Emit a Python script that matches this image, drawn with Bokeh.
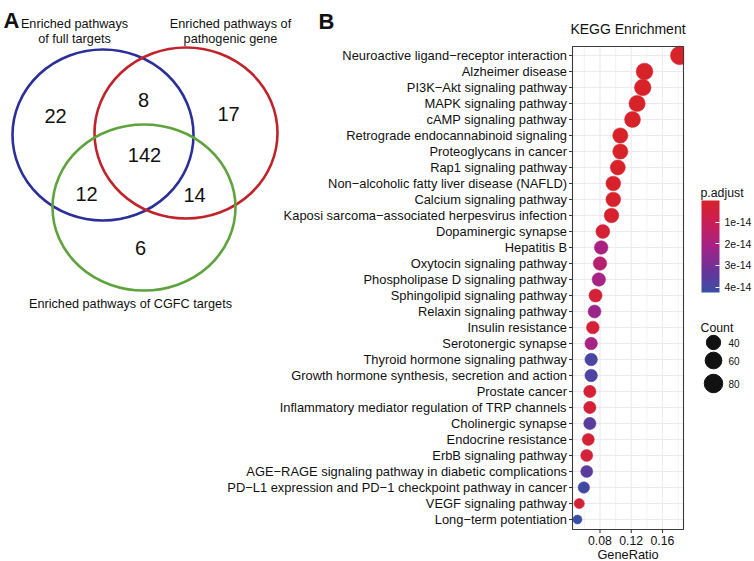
import math
from bokeh.plotting import figure
from bokeh.models import (ColumnDataSource, Range1d, LinearColorMapper, ColorBar,
                          FixedTicker, CustomJSTickFormatter)
from bokeh.embed import file_html
from bokeh.resources import INLINE
from bokeh.core.properties import value

# ---------------- data ----------------
pathways = [
    "Neuroactive ligand\u2212receptor interaction",
    "Alzheimer disease",
    "PI3K\u2212Akt signaling pathway",
    "MAPK signaling pathway",
    "cAMP signaling pathway",
    "Retrograde endocannabinoid signaling",
    "Proteoglycans in cancer",
    "Rap1 signaling pathway",
    "Non\u2212alcoholic fatty liver disease (NAFLD)",
    "Calcium signaling pathway",
    "Kaposi sarcoma\u2212associated herpesvirus infection",
    "Dopaminergic synapse",
    "Hepatitis B",
    "Oxytocin signaling pathway",
    "Phospholipase D signaling pathway",
    "Sphingolipid signaling pathway",
    "Relaxin signaling pathway",
    "Insulin resistance",
    "Serotonergic synapse",
    "Thyroid hormone signaling pathway",
    "Growth hormone synthesis, secretion and action",
    "Prostate cancer",
    "Inflammatory mediator regulation of TRP channels",
    "Cholinergic synapse",
    "Endocrine resistance",
    "ErbB signaling pathway",
    "AGE\u2212RAGE signaling pathway in diabetic complications",
    "PD\u2212L1 expression and PD\u22121 checkpoint pathway in cancer",
    "VEGF signaling pathway",
    "Long\u2212term potentiation",
]
gene_ratio = [0.182, 0.137, 0.1347, 0.1275, 0.1216, 0.106, 0.106, 0.1028, 0.097, 0.097,
              0.0947, 0.0836, 0.0815, 0.080, 0.0785, 0.0743, 0.073, 0.0708, 0.0687, 0.0687,
              0.0687, 0.067, 0.067, 0.067, 0.065, 0.063, 0.063, 0.0593, 0.0534, 0.0512]
counts = [80, 60, 59, 56, 53, 47, 47, 45, 43, 43,
          42, 37, 36, 35, 35, 33, 32, 31, 30, 30,
          30, 29, 29, 29, 28, 28, 28, 26, 23, 22]
p_adjust = [1.2e-24, 3.5e-22, 2.1e-21, 5.6e-20, 8.0e-19, 3.3e-17, 4.1e-17, 1.5e-16, 6.2e-16, 7.5e-16,
            1.1e-15, 2.4e-15, 2.0e-14, 1.6e-14, 2.05e-14, 3.0e-15, 2.35e-14, 2.6e-15, 2.05e-14, 3.9e-14,
            3.85e-14, 2.9e-15, 3.1e-15, 3.6e-14, 3.2e-15, 3.6e-15, 3.55e-14, 4.1e-14, 2.8e-15, 4.25e-14]
x_ticks = [0.08, 0.12, 0.16]
x_tick_labels = ["0.08", "0.12", "0.16"]
x_minor = [0.06, 0.10, 0.14, 0.18]
padj_ticks = [1e-14, 2e-14, 3e-14, 4e-14]
count_breaks = [40, 60, 80]

venn_title_lines = [["Enriched pathways", "of full targets"],
                    ["Enriched pathways of", "pathogenic gene"],
                    ["Enriched pathways of CGFC targets"]]
venn_regions = ["full only", "full & pathogenic", "pathogenic only", "all three",
                "full & CGFC", "pathogenic & CGFC", "CGFC only"]
venn_counts = [22, 8, 17, 142, 12, 14, 6]

# ---------------- styles / layout (page pixels) ----------------
FONT = "Liberation Sans"
TXT = "#111111"
GRID = "#EBEBEB"
BORDER = "#3a3a3a"
W, H = 754, 561
PANEL_L, PANEL_R, PANEL_T, PANEL_B = 572, 683, 46, 529
RATIO_LO, RATIO_HI = 0.0448, 0.1869          # GeneRatio axis limits
ROW0_Y, ROW_STEP = 55.0, 16.0                # first category centre, category spacing
CB_L, CB_T, CB_W, CB_H = 701, 200, 18, 92    # colour bar box

def palette_from_stops(stops, n=256):
    out = []
    for i in range(n):
        t = i / (n - 1)
        for (t0, c0), (t1, c1) in zip(stops[:-1], stops[1:]):
            if t0 <= t <= t1:
                f = (t - t0) / (t1 - t0) if t1 > t0 else 0
                c = [round(a + (b - a) * f) for a, b in zip(c0, c1)]
                out.append("#%02x%02x%02x" % tuple(c))
                break
    return out

pal = palette_from_stops([(0.0, (216, 34, 42)), (0.25, (200, 30, 88)), (0.5, (165, 35, 135)),
                          (0.75, (108, 50, 152)), (1.0, (58, 78, 165))])

cmin, cmax = min(counts), max(counts)
def diam(c):
    return 9.0 + 9.5 * math.sqrt((c - cmin) / (cmax - cmin))

p = figure(width=W, height=H, x_range=Range1d(0, W), y_range=Range1d(H, 0),
           output_backend="svg", toolbar_location=None, min_border=0,
           x_axis_location=None, y_axis_location=None)
p.grid.visible = False
p.outline_line_color = None

pmin, pmax = min(p_adjust), max(p_adjust)

# GeneRatio scale, category scale and p.adjust legend scale
k = (RATIO_HI - RATIO_LO) / (PANEL_R - PANEL_L)
kp = (pmax - pmin) / CB_H
p.extra_x_ranges = {"ratio": Range1d(RATIO_LO - PANEL_L * k, RATIO_LO + (W - PANEL_L) * k)}
p.extra_y_ranges = {"rows": Range1d((H - ROW0_Y) / ROW_STEP, -ROW0_Y / ROW_STEP),
                    "padj": Range1d(pmin + (H - CB_T) * kp, pmin - CB_T * kp)}

rows = list(range(len(pathways)))
src = ColumnDataSource(dict(pathway=pathways, row=rows, ratio=gene_ratio, count=counts,
                            padj=p_adjust, size=[diam(c) for c in counts]))
mapper = LinearColorMapper(palette=pal, low=pmin, high=pmax)

# ---- panel background grid ----
p.segment(x0=PANEL_L, x1=PANEL_R, y0="row", y1="row", source=src, y_range_name="rows",
          line_color=GRID, line_width=1.1)
p.segment(x0=x_minor, x1=x_minor, y0=PANEL_T, y1=PANEL_B, x_range_name="ratio",
          line_color=GRID, line_width=0.6)
p.segment(x0=x_ticks, x1=x_ticks, y0=PANEL_T, y1=PANEL_B, x_range_name="ratio",
          line_color=GRID, line_width=1.1)

# ---- dots ----
p.scatter(x="ratio", y="row", size="size", source=src, x_range_name="ratio", y_range_name="rows",
          fill_color={"field": "padj", "transform": mapper},
          line_color={"field": "padj", "transform": mapper}, line_width=0.5)
# panel clips the dots at its right edge
p.quad(left=PANEL_R + 0.6, right=PANEL_R + 20, top=PANEL_T, bottom=PANEL_T + 30,
       fill_color="white", line_color=None)

# ---- panel border, ticks, labels ----
p.quad(left=PANEL_L, right=PANEL_R, top=PANEL_T, bottom=PANEL_B, fill_color=None,
       line_color=BORDER, line_width=1.1)
p.segment(x0=PANEL_L - 3.5, x1=PANEL_L, y0="row", y1="row", source=src, y_range_name="rows",
          line_color=BORDER, line_width=1.1)
p.text(x=PANEL_L - 5.5, y="row", text="pathway", source=src, y_range_name="rows",
       text_font=value(FONT), text_font_size=value("12.9px"), text_color=TXT,
       text_align="right", text_baseline="middle")
p.segment(x0=x_ticks, x1=x_ticks, y0=PANEL_B, y1=PANEL_B + 3.5, x_range_name="ratio",
          line_color=BORDER, line_width=1.1)
p.text(x=x_ticks, y=[PANEL_B + 11] * len(x_ticks), text=x_tick_labels, x_range_name="ratio",
       text_font=value(FONT), text_font_size=value("12.3px"), text_color=TXT,
       text_align="center", text_baseline="middle")
p.text(x=[(PANEL_L + PANEL_R) / 2], y=[553.5], text=["GeneRatio"], text_font=value(FONT),
       text_font_size=value("12.8px"), text_color=TXT, text_align="center",
       text_baseline="middle")
p.text(x=[(PANEL_L + PANEL_R) / 2], y=[28], text=["KEGG Enrichment"], text_font=value(FONT),
       text_font_size=value("14px"), text_color=TXT, text_align="center",
       text_baseline="middle")

# ---------------- Venn panel ----------------
circ_cx = [102.5, 185.5, 143.5]
circ_cy = [134.5, 132.5, 207.0]
circ_w = [181, 183, 183]
circ_h = [171, 171, 166]
circ_c = ["#2B2F9A", "#C0232A", "#5EA33C"]
p.ellipse(x=circ_cx, y=circ_cy, width=circ_w, height=circ_h, fill_color=None,
          line_color=circ_c, line_width=2.6)

title_x = [74, 230, 130]
title_y = [[23, 38], [23, 38], [303]]
for lines, tx, tys in zip(venn_title_lines, title_x, title_y):
    p.text(x=[tx] * len(lines), y=tys, text=lines, text_font=value(FONT),
           text_font_size=value("12.7px"), text_color=TXT, text_align="center",
           text_baseline="middle")

num_x = [55, 143, 228, 144, 86, 194, 140]
num_y = [115, 99, 113, 154, 193, 194, 247]
p.text(x=num_x, y=num_y, text=[str(v) for v in venn_counts], text_font=value(FONT),
       text_font_size=value("20px"), text_color=TXT, text_align="center",
       text_baseline="middle")

p.text(x=[3, 318], y=[20, 21], text=["A", "B"], text_font=value(FONT),
       text_font_size=value("22px"), text_font_style="bold", text_color=TXT,
       text_align="left", text_baseline="alphabetic")

# ---------------- Legends ----------------
p.text(x=[700, 700], y=[192.5, 327], text=["p.adjust", "Count"], text_font=value(FONT),
       text_font_size=value("12.3px"), text_color=TXT, text_align="left",
       text_baseline="alphabetic")

cb_mapper = LinearColorMapper(palette=pal[::-1], low=pmax, high=pmin)
cb = ColorBar(color_mapper=cb_mapper, ticker=FixedTicker(ticks=padj_ticks),
              formatter=CustomJSTickFormatter(code="return (tick/1e-14).toFixed(0) + 'e-14';"),
              width=CB_W, height=CB_H, location=(CB_L, H - CB_T - CB_H), padding=0, margin=0,
              label_standoff=5, major_label_text_font=FONT, major_label_text_font_size="10.5px",
              major_label_text_color=TXT, major_tick_line_color="white", major_tick_in=4,
              major_tick_out=0, bar_line_color=None, background_fill_color=None,
              border_line_color=None)
p.add_layout(cb, "center")
# white ticks on the left edge of the bar as well
p.segment(x0=CB_L, x1=CB_L + 3.6, y0=padj_ticks, y1=padj_ticks, y_range_name="padj",
          line_color="white", line_width=1)

leg_y = [342, 360, 383]
p.scatter(x=[713] * 3, y=leg_y, size=[diam(c) for c in count_breaks], color="#111111")
p.text(x=[728] * 3, y=leg_y, text=[str(c) for c in count_breaks], text_font=value(FONT),
       text_font_size=value("10px"), text_color=TXT, text_align="left", text_baseline="middle")

open("out.html", "w").write(file_html(p, INLINE))
